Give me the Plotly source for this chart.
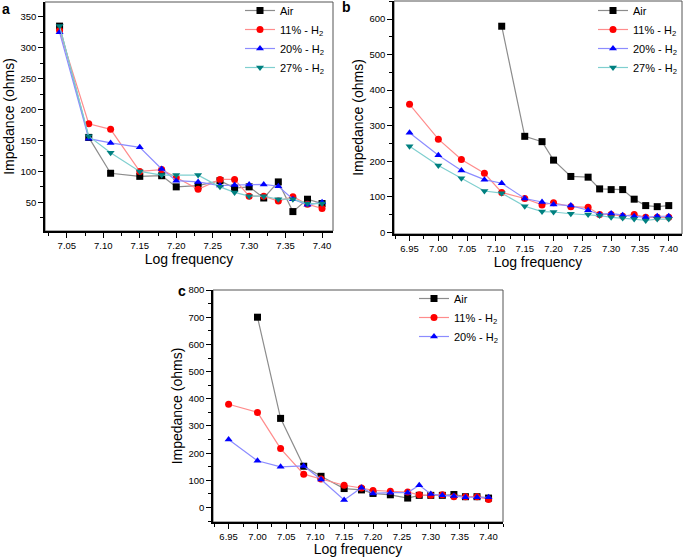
import plotly.graph_objects as go

# ---------------- data ----------------
# panel a
xa = [7.04, 7.08, 7.11, 7.15, 7.18, 7.20, 7.23, 7.26, 7.28, 7.30, 7.32, 7.34, 7.36, 7.38, 7.40]
a_air = [335, 155, 97, 92, 93, 75, 77, 85, 73, 75, 57, 83, 35, 55, 48]
a_h11 = [328, 177, 168, 100, 103, 90, 71, 87, 87, 60, 60, 52, 59, 47, 40]
a_h20 = [325, 153, 146, 139, 104, 85, 83, 77, 78, 79, 79, 76, 55, 46, 50]
a_h27 = [335, 157, 130, 100, 94, 94, 94, 75, 66, 60, 60, 55, 55, 48, 48]

# panel b
xb = [6.95, 7.00, 7.04, 7.08, 7.11, 7.15, 7.18, 7.20, 7.23, 7.26, 7.28, 7.30, 7.32, 7.34, 7.36, 7.38, 7.40]
xb_air = [7.11, 7.15, 7.18, 7.20, 7.23, 7.26, 7.28, 7.30, 7.32, 7.34, 7.36, 7.38, 7.40]
b_air = [580, 270, 255, 203, 157, 155, 122, 120, 120, 93, 75, 72, 75]
b_h11 = [360, 262, 205, 166, 112, 95, 77, 83, 72, 70, 50, 50, 45, 50, 42, 42, 42]
b_h20 = [280, 217, 174, 148, 138, 95, 85, 78, 75, 62, 50, 53, 48, 45, 42, 45, 45]
b_h27 = [242, 188, 152, 116, 110, 73, 58, 57, 52, 50, 47, 42, 40, 37, 33, 37, 37]

# panel c
xc = [6.95, 7.00, 7.04, 7.08, 7.11, 7.15, 7.18, 7.20, 7.23, 7.26, 7.28, 7.30, 7.32, 7.34, 7.36, 7.38, 7.40]
xc_air = [7.00, 7.04, 7.08, 7.11, 7.15, 7.18, 7.20, 7.23, 7.26, 7.28, 7.30, 7.32, 7.34, 7.36, 7.38, 7.40]
c_air = [700, 328, 152, 115, 70, 65, 52, 47, 35, 45, 45, 45, 48, 40, 40, 35]
c_h11 = [380, 350, 217, 123, 105, 82, 72, 63, 60, 57, 47, 45, 47, 40, 40, 40, 30]
c_h20 = [250, 172, 150, 153, 103, 28, 73, 52, 55, 55, 82, 50, 45, 43, 38, 38, 38]

names = ["Air", "11% - H<sub>2</sub>", "20% - H<sub>2</sub>", "27% - H<sub>2</sub>"]
line_cols = ["#8c8c8c", "#ff8c8c", "#8c8cff", "#7fcfcf"]
mark_cols = ["#000000", "#ff0000", "#0000ff", "#008080"]
symbols = ["square", "circle", "triangle-up", "triangle-down"]

FONT = "Liberation Sans, Arial, sans-serif"

fig = go.Figure()

def add(x, y, i, ax, legend):
    fig.add_trace(go.Scatter(
        x=x, y=y, mode="lines+markers", name=names[i],
        line=dict(color=line_cols[i], width=1.2),
        marker=dict(color=mark_cols[i], symbol=symbols[i], size=7, line=dict(width=0)),
        xaxis="x" + ax, yaxis="y" + ax, legend=legend,
    ))

for i, y in enumerate([a_air, a_h11, a_h20, a_h27]):
    add(xa, y, i, "", "legend")
add(xb_air, b_air, 0, "2", "legend2")
for i, y in enumerate([b_h11, b_h20, b_h27]):
    add(xb, y, i + 1, "2", "legend2")
add(xc_air, c_air, 0, "3", "legend3")
for i, y in enumerate([c_h11, c_h20]):
    add(xc, y, i + 1, "3", "legend3")

W, H = 685, 557

def fx(px):
    return px / W

def fy(py):
    return 1 - py / H

def xax(dom, rng, anchor, dtick=0.05):
    return dict(domain=dom, range=rng, anchor=anchor, showgrid=False, zeroline=False,
                automargin=False,
                showline=True, linecolor="black", linewidth=1.5, ticks="outside",
                ticklen=5, tickwidth=1, tickcolor="black", dtick=dtick, tick0=7.0,
                tickformat=".2f",
                minor=dict(ticks="outside", ticklen=3, dtick=dtick / 2, tick0=7.0, tickcolor="black"),
                tickfont=dict(size=9.5, family=FONT, color="black"),
                title=dict(text="Log frequency", font=dict(size=14, family=FONT, color="black"), standoff=2))

def yax(dom, rng, anchor, dtick, t0=0):
    return dict(domain=dom, range=rng, anchor=anchor, showgrid=False, zeroline=False,
                automargin=False,
                showline=True, linecolor="black", linewidth=1.5, ticks="outside",
                ticklen=5, tickwidth=1, tickcolor="black", dtick=dtick, tick0=t0,
                minor=dict(ticks="outside", ticklen=3, dtick=dtick / 2, tick0=t0, tickcolor="black"),
                tickfont=dict(size=9.5, family=FONT, color="black"),
                title=dict(text="Impedance (ohms)", font=dict(size=14, family=FONT, color="black"), standoff=3))

LEG = dict(xanchor="left", yanchor="top", bgcolor="rgba(0,0,0,0)",
           font=dict(size=11, family=FONT, color="black"), tracegroupgap=0, itemwidth=30)

fig.update_layout(
    width=W, height=H, margin=dict(l=0, r=0, t=0, b=0, autoexpand=False),
    paper_bgcolor="white", plot_bgcolor="white",
    font=dict(family=FONT, color="black"),
    xaxis=xax([fx(45), fx(333)], [7.02, 7.415], "y"),
    yaxis=yax([fy(231), fy(2)], [3.6, 374], "x", 50),
    xaxis2=xax([fx(394), fx(682)], [6.923, 7.423], "y2"),
    yaxis2=yax([fy(234), fy(1)], [-5, 651], "x2", 100),
    xaxis3=xax([fx(213), fx(503)], [6.923, 7.425], "y3"),
    yaxis3=yax([fy(522), fy(290)], [-53, 800], "x3", 100),
    legend=dict(x=fx(240), y=fy(-4), **LEG),
    legend2=dict(x=fx(593), y=fy(-4), **LEG),
    legend3=dict(x=fx(414), y=fy(284), **LEG),
)

# grey frame on top/right
for ax in ["", "2", "3"]:
    fig.add_shape(type="rect", xref="x" + ax + " domain", yref="y" + ax + " domain",
                  x0=0, x1=1, y0=0, y1=1, line=dict(color="#555555", width=1), layer="below")

# panel labels
for txt, px, py in [("a", 6, 9), ("b", 346, 7), ("c", 182, 291)]:
    fig.add_annotation(text="<b>%s</b>" % txt, x=fx(px), y=fy(py), xref="paper", yref="paper",
                       showarrow=False, font=dict(size=14, family=FONT, color="black"),
                       xanchor="center", yanchor="middle")

# remove the browser's default page margin so the figure sits at the window's corner
fig.write_html("out.html", config={"displayModeBar": False},
               post_script="document.body.style.margin='0';")
